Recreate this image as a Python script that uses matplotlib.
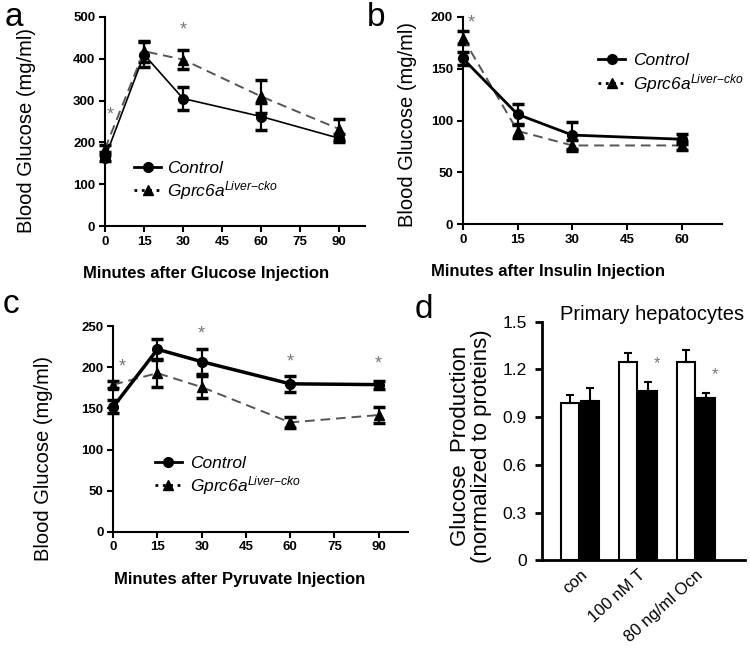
import matplotlib
matplotlib.use("Agg")
import matplotlib.pyplot as plt
from matplotlib.lines import Line2D
from matplotlib.font_manager import FontProperties

plt.rcParams['font.family'] = ['Liberation Sans', 'DejaVu Sans']
plt.rcParams['mathtext.fontset'] = 'custom'
plt.rcParams['mathtext.it'] = 'Liberation Sans:italic'
plt.rcParams['mathtext.rm'] = 'Liberation Sans'

# === a: glucose tolerance ===
gtt_min = [0, 15, 30, 60, 90]
gtt_ctrl = [163, 410, 305, 262, 210]
gtt_ctrl_err = [8, 30, 27, 33, 10]
gtt_ko = [185, 418, 398, 310, 232]
gtt_ko_err = [8, 25, 22, 40, 25]
gtt_star_x = [2, 30]
gtt_star_y = [266, 468]

# === b: insulin tolerance ===
itt_min = [0, 15, 30, 60]
itt_ctrl = [160, 106, 86, 82]
itt_ctrl_err = [6, 10, 13, 5]
itt_ko = [180, 90, 76, 76]
itt_ko_err = [6, 7, 5, 4]
itt_star_x = [2.2]
itt_star_y = [194]

# === c: pyruvate tolerance ===
ptt_min = [0, 15, 30, 60, 90]
ptt_ctrl = [152, 222, 207, 180, 179]
ptt_ctrl_err = [8, 13, 15, 10, 5]
ptt_ko = [179, 193, 176, 133, 142]
ptt_ko_err = [4, 17, 13, 7, 10]
ptt_star_x = [3.2, 30, 60, 90]
ptt_star_y = [200, 241, 207, 204]

# === d: primary hepatocytes ===
conditions = ['con', '100 nM T', '80 ng/ml Ocn']
hep_ctrl = [0.99, 1.25, 1.245]
hep_ctrl_err = [0.05, 0.055, 0.08]
hep_ko = [1.0, 1.065, 1.02]
hep_ko_err = [0.085, 0.055, 0.035]
hep_star_y = [1.235, 1.17]

ko_label = r'Gprc6a$^{Liver{-}cko}$'
tick_font = FontProperties(family=['Liberation Sans Narrow', 'Liberation Sans'], weight='bold', size=9.5)
label_font = FontProperties(family=['Liberation Sans Narrow', 'Liberation Sans'], weight='bold', size=12)


def line_panel(ax, x, ctrl, ctrl_err, ko, ko_err, star_x, star_y, ctrl_lw, xmax, ymax, ystep, xticks, xlabel):
    ax.errorbar(x, ko, yerr=ko_err, color='#555555', ls=(0, (5, 3)), lw=1.4, marker='^', ms=7,
                mfc='black', mec='black', ecolor='black', elinewidth=1.6, capsize=4, capthick=2.5,
                clip_on=False, zorder=3)
    ax.errorbar(x, ctrl, yerr=ctrl_err, color='black', lw=ctrl_lw, marker='o', ms=7,
                ecolor='black', elinewidth=1.6, capsize=4, capthick=2.5, clip_on=False, zorder=4)
    for sx, sy in zip(star_x, star_y):
        ax.text(sx, sy, '*', color='#777777', fontsize=13, ha='center', va='center')
    ax.set_xlim(0, xmax)
    ax.set_ylim(0, ymax)
    ax.set_xticks(xticks)
    ax.set_yticks(range(0, ymax + 1, ystep))
    for lab in ax.get_xticklabels() + ax.get_yticklabels():
        lab.set_fontproperties(tick_font)
    ax.spines['top'].set_visible(False)
    ax.spines['right'].set_visible(False)
    ax.spines['left'].set_linewidth(1.5)
    ax.spines['bottom'].set_linewidth(1.5)
    ax.tick_params(direction='out', length=4, width=1.5, pad=3)
    ax.set_ylabel('Blood Glucose (mg/ml)', fontsize=14.5)
    ax.set_xlabel(xlabel, fontproperties=label_font)
    handles = [Line2D([], [], color='black', lw=2, marker='o', ms=7),
               Line2D([], [], color='black', lw=2, ls=':', marker='^', ms=7)]
    return handles


fig = plt.figure(figsize=(7.5, 6.5), dpi=100)

ax_a = fig.add_axes([0.140, 0.652, 0.347, 0.322])
h = line_panel(ax_a, gtt_min, gtt_ctrl, gtt_ctrl_err, gtt_ko, gtt_ko_err, gtt_star_x, gtt_star_y,
               1.2, 100, 500, 100, [0, 15, 30, 45, 60, 75, 90], 'Minutes after Glucose Injection')
ax_a.legend(h, ['Control', ko_label], loc='center left', bbox_to_anchor=(0.11, 0.215), frameon=False,
            prop=dict(style='italic', size=12.5), handlelength=1.6, handletextpad=0.35,
            labelspacing=0.2, borderpad=0, borderaxespad=0)
ax_a.yaxis.set_label_coords(-0.265, 0.457)
ax_a.xaxis.set_label_coords(0.39, -0.19)

ax_b = fig.add_axes([0.617, 0.655, 0.346, 0.319])
h = line_panel(ax_b, itt_min, itt_ctrl, itt_ctrl_err, itt_ko, itt_ko_err, itt_star_x, itt_star_y,
               2.0, 71, 200, 50, [0, 15, 30, 45, 60], 'Minutes after Insulin Injection')
ax_b.legend(h, ['Control', ko_label], loc='center left', bbox_to_anchor=(0.52, 0.725), frameon=False,
            prop=dict(style='italic', size=12.5), handlelength=1.6, handletextpad=0.45,
            labelspacing=0.2, borderpad=0, borderaxespad=0)
ax_b.yaxis.set_label_coords(-0.178, 0.483)
ax_b.xaxis.set_label_coords(0.33, -0.19)

ax_c = fig.add_axes([0.151, 0.182, 0.393, 0.316])
h = line_panel(ax_c, ptt_min, ptt_ctrl, ptt_ctrl_err, ptt_ko, ptt_ko_err, ptt_star_x, ptt_star_y,
               2.5, 100, 250, 50, [0, 15, 30, 45, 60, 75, 90], 'Minutes after Pyruvate Injection')
ax_c.legend(h, ['Control', ko_label], loc='center left', bbox_to_anchor=(0.14, 0.27), frameon=False,
            prop=dict(style='italic', size=12.5), handlelength=1.6, handletextpad=0.45,
            labelspacing=0.2, borderpad=0, borderaxespad=0)
ax_c.yaxis.set_label_coords(-0.203, 0.354)
ax_c.xaxis.set_label_coords(0.43, -0.195)

# === d: bars ===
ax_d = fig.add_axes([0.723, 0.138, 0.270, 0.367])
xs = range(len(conditions))
w = 0.31
ax_d.bar([x - 0.17 for x in xs], hep_ctrl, width=w, color='white', edgecolor='black', lw=1.5,
         yerr=[[0] * 3, hep_ctrl_err], error_kw=dict(ecolor='black', elinewidth=1.5, capsize=3, capthick=1.5))
ax_d.bar([x + 0.17 for x in xs], hep_ko, width=w, color='black', edgecolor='black', lw=1.5,
         yerr=[[0] * 3, hep_ko_err], error_kw=dict(ecolor='black', elinewidth=1.5, capsize=3, capthick=1.5))
for x, sy in zip([1, 2], hep_star_y):
    ax_d.text(x + 0.32, sy, '*', color='#777777', fontsize=12, ha='center', va='center')
ax_d.set_xlim(-0.655, 2.84)
ax_d.set_ylim(0, 1.5)
ax_d.set_yticks([0, 0.3, 0.6, 0.9, 1.2, 1.5])
ax_d.set_yticklabels(['0', '0.3', '0.6', '0.9', '1.2', '1.5'], fontsize=12.5)
ax_d.set_xticks(list(xs))
ax_d.set_xticklabels(conditions, rotation=42, ha='right', rotation_mode='anchor', fontsize=12)
ax_d.tick_params(axis='x', length=0, pad=5)
ax_d.tick_params(axis='y', direction='out', length=5, width=2, pad=6)
ax_d.spines['top'].set_visible(False)
ax_d.spines['right'].set_visible(False)
ax_d.spines['left'].set_linewidth(2)
ax_d.spines['bottom'].set_linewidth(2)
ax_d.set_ylabel('Glucose  Production\n(normalized to proteins)', fontsize=16, linespacing=1.0)
ax_d.yaxis.set_label_coords(-0.246, 0.479)
ax_d.text(0.089, 1.03, 'Primary hepatocytes', transform=ax_d.transAxes, fontsize=14.5, ha='left', va='center')

# Panel-Buchstaben
fig.text(5 / 750, 1 - 26 / 650, 'a', fontsize=24, va='baseline')
fig.text(367 / 750, 1 - 26 / 650, 'b', fontsize=24, va='baseline')
fig.text(3 / 750, 1 - 313 / 650, 'c', fontsize=24, va='baseline')
fig.text(415 / 750, 1 - 318 / 650, 'd', fontsize=24, va='baseline')

fig.savefig('out.png', dpi=100)
